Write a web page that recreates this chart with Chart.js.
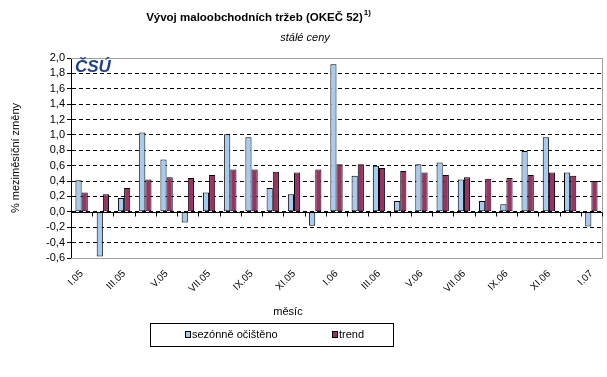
<!DOCTYPE html>
<html>
<head>
<meta charset="utf-8">
<script src="https://cdn.jsdelivr.net/npm/chart.js@4"></script>
<style>
  body { margin: 0; background: #fff; }
  #graf { display: block; }
</style>
</head>
<body>
<canvas id="graf" width="607" height="377"></canvas>
<script>
// měsíce I.05 .. I.07
const mesice = ['I.05', 'II.05', 'III.05', 'IV.05', 'V.05', 'VI.05', 'VII.05', 'VIII.05', 'IX.05', 'X.05', 'XI.05', 'XII.05',
    'I.06', 'II.06', 'III.06', 'IV.06', 'V.06', 'VI.06', 'VII.06', 'VIII.06', 'IX.06', 'X.06', 'XI.06', 'XII.06', 'I.07'];
// sezónně očištěno
const sezonne = [0.41, -0.58, 0.18, 1.03, 0.68, -0.14, 0.25, 1.01, 0.97, 0.31, 0.23, -0.18,
    1.92, 0.47, 0.60, 0.14, 0.62, 0.64, 0.42, 0.14, 0.10, 0.79, 0.97, 0.51, -0.19];
// trend
const trend = [0.25, 0.23, 0.31, 0.42, 0.45, 0.44, 0.48, 0.55, 0.55, 0.52, 0.51, 0.55,
    0.62, 0.62, 0.57, 0.53, 0.51, 0.48, 0.45, 0.43, 0.44, 0.48, 0.51, 0.47, 0.40];
const osaY = { min: -0.6, max: 2.0, krok: 0.2 };

const FONT = 'Arial, "Liberation Sans", sans-serif';

// titulek, logo, nulová osa, rámeček, legenda
const kresba = {
    id: 'kresba',
    afterDraw(chart) {
        const c = chart.ctx;
        const a = chart.chartArea;
        const x = chart.scales.x;
        const y = chart.scales.y;
        c.save();

        // titulek
        c.fillStyle = '#000';
        c.textBaseline = 'middle';
        c.font = 'bold 11.5px ' + FONT;
        const t = 'Vývoj maloobchodních tržeb (OKEČ 52)';
        const w = c.measureText(t).width;
        c.font = 'bold 8px ' + FONT;
        const w2 = c.measureText('1)').width;
        const x0 = 258 - (w + w2) / 2;
        c.textAlign = 'left';
        c.font = 'bold 11.5px ' + FONT;
        c.fillText(t, x0, 18);
        c.font = 'bold 8px ' + FONT;
        c.fillText('1)', x0 + w + 1, 13);
        c.font = 'italic 11px ' + FONT;
        c.textAlign = 'center';
        c.fillText('stálé ceny', 305, 38);

        // šedý rámeček
        c.strokeStyle = '#a0a0a0';
        c.lineWidth = 1;
        c.beginPath();
        c.moveTo(a.left, Math.round(a.top) + 0.5);
        c.lineTo(Math.round(a.right) + 0.5, Math.round(a.top) + 0.5);
        c.lineTo(Math.round(a.right) + 0.5, Math.round(a.bottom) + 0.5);
        c.lineTo(a.left, Math.round(a.bottom) + 0.5);
        c.stroke();

        // nulová osa s čárkami
        const y0 = Math.round(y.getPixelForValue(0)) + 0.5;
        c.strokeStyle = '#000';
        c.beginPath();
        c.moveTo(a.left, y0);
        c.lineTo(a.right, y0);
        for (let i = 0; i <= mesice.length; i++) {
            const px = Math.round(x.getPixelForValue(i - 0.5)) + 0.5;
            c.moveTo(px, y0);
            c.lineTo(px, y0 + 4);
        }
        c.stroke();

        // logo
        c.fillStyle = '#1f3f8f';
        c.font = 'bold italic 17px ' + FONT;
        c.textAlign = 'left';
        c.fillText('ČSÚ', a.left + 4, a.top + 9);

        // popis osy x
        c.fillStyle = '#000';
        c.font = '11px ' + FONT;
        c.textAlign = 'center';
        c.fillText('měsíc', 288, 312);

        // legenda
        c.strokeStyle = '#000';
        c.strokeRect(150.5, 323.5, 243, 23);
        const polozky = [[185, chart.data.datasets[0]], [332, chart.data.datasets[1]]];
        c.textAlign = 'left';
        c.font = '11px ' + FONT;
        polozky.forEach(([lx, ds]) => {
            c.fillStyle = ds.backgroundColor;
            c.fillRect(lx + 0.5, 331.5, 5, 6);
            c.strokeRect(lx + 0.5, 331.5, 5, 6);
            c.fillStyle = '#000';
            c.fillText(ds.label, lx + 7, 335);
        });
        c.restore();
    }
};

new Chart(document.getElementById('graf'), {
    type: 'bar',
    data: {
        labels: mesice,
        datasets: [{
            label: 'sezónně očištěno',
            data: sezonne,
            backgroundColor: '#a6caf0',
            borderColor: '#000',
            borderWidth: 1,
            borderSkipped: false
        }, {
            label: 'trend',
            data: trend,
            backgroundColor: '#993366',
            borderColor: '#000',
            borderWidth: 1,
            borderSkipped: false
        }]
    },
    options: {
        responsive: false,
        animation: false,
        layout: { padding: { top: 58, right: 5, left: 0, bottom: 0 } },
        datasets: { bar: { categoryPercentage: 0.58, barPercentage: 1.0 } },
        scales: {
            x: {
                afterFit(s) { s.height = 119; },
                grid: { display: false },
                border: { display: false },
                ticks: {
                    autoSkip: false,
                    minRotation: 45,
                    maxRotation: 45,
                    color: '#000',
                    padding: 2,
                    font: { family: FONT, size: 10 },
                    callback(v, i) { return i % 2 === 0 ? mesice[i] : ''; }
                }
            },
            y: {
                min: osaY.min,
                max: osaY.max,
                afterFit(s) { s.width = 71; },
                ticks: {
                    stepSize: osaY.krok,
                    autoSkip: false,
                    color: '#000',
                    padding: 2,
                    font: { family: FONT, size: 11 },
                    callback(v) { return v.toFixed(1).replace('.', ','); }
                },
                grid: {
                    color(ctx) {
                        const v = ctx.tick ? ctx.tick.value : 0;
                        return (Math.abs(v - osaY.max) < 1e-6 || Math.abs(v - osaY.min) < 1e-6) ? 'rgba(0,0,0,0)' : '#000';
                    },
                    tickColor: '#000',
                    tickLength: 4
                },
                border: { display: true, color: '#000', dash: [4, 3] },
                title: {
                    display: true,
                    text: '% meziměsíční změny',
                    color: '#000',
                    padding: { top: 9, bottom: 0 },
                    font: { family: FONT, size: 11 }
                }
            }
        },
        plugins: {
            legend: { display: false },
            tooltip: { enabled: false }
        }
    },
    plugins: [kresba]
});
</script>
</body>
</html>
